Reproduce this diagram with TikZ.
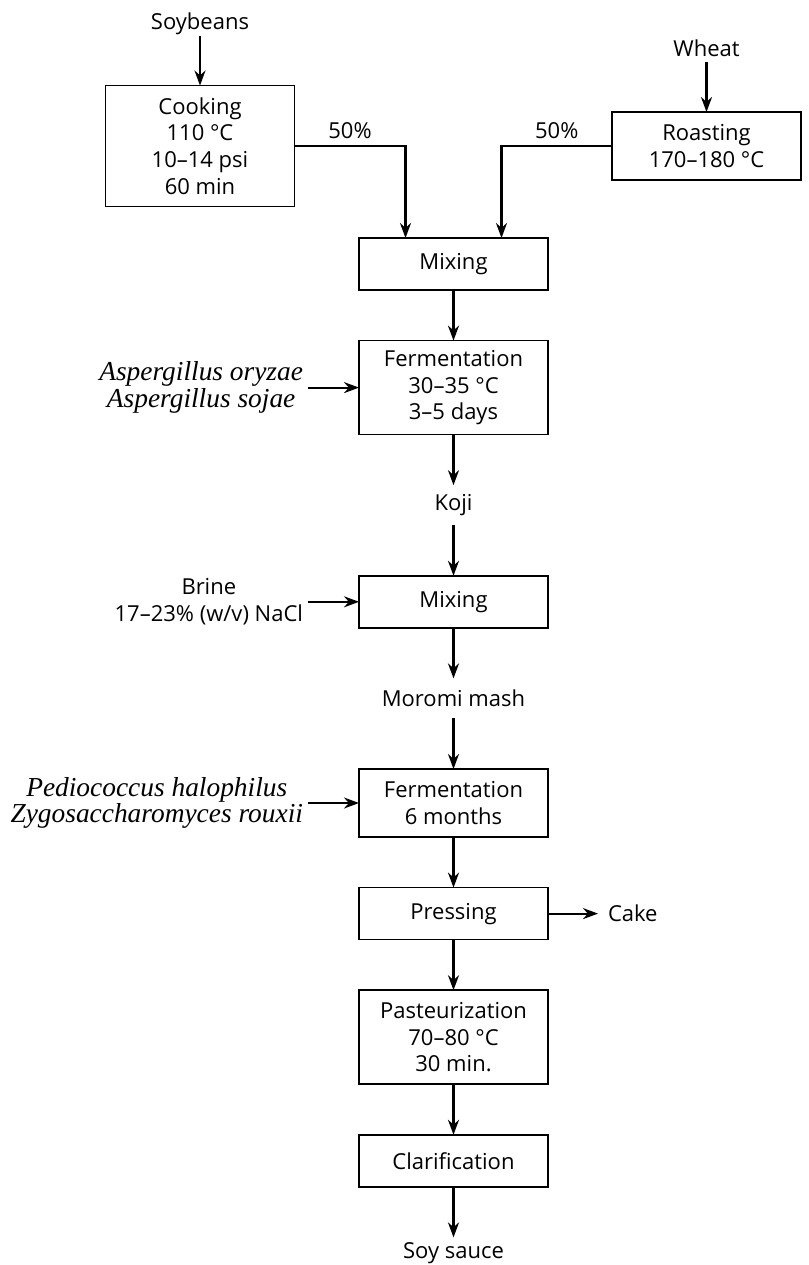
\documentclass[tikz,border=0pt]{standalone}
\usepackage{fontspec}
\setmainfont{Open Sans}
\newfontfamily\spfont{Liberation Serif}
\usetikzlibrary{positioning, arrows.meta}

\begin{document}
\begin{tikzpicture}[x=0.5pt,y=0.5pt,font=\fontsize{11pt}{13.3pt}\selectfont,
  >={Stealth[length=7.5pt,width=5.5pt]},node distance=25.3pt,
  box/.style={draw,line width=0.75pt,align=center,inner sep=0pt,outer sep=0pt,minimum width=94.5pt,minimum height=26pt},
  lbl/.style={align=center,inner sep=0pt,outer sep=0pt,minimum height=20pt},
  src/.style={align=center,inner xsep=2.5pt,inner ysep=0pt,outer sep=0pt,font=\fontsize{13.7pt}{13.3pt}\spfont\itshape},
  flow/.style={->,line width=1.1pt}]
  \useasboundingbox (0,0) rectangle (809,-1265);
  \node[box,minimum height=60.5pt](cook) at (200,-146){Cooking\\ 110 °C\\ 10–14 psi\\ 60 min};
  \node[box,minimum height=34pt](roast) at (706.5,-146){Roasting\\ 170–180 °C};
  \node[lbl,minimum height=0pt,text depth=3pt,above=25pt of cook](soy){Soybeans};
  \node[lbl,minimum height=0pt,text depth=3pt,above=25pt of roast](wheat){Wheat};
  \node[box](mix1) at (453.5,-264){Mixing};
  \coordinate (inL) at ([xshift=-24pt]mix1.north);
  \coordinate (inR) at ([xshift=24pt]mix1.north);
  \node[box,minimum height=47pt,below=of mix1](fer1){Fermentation\\ 30–35 °C\\ 3–5 days};
  \node[lbl,below=of fer1](koji){Koji};
  \node[box,below=of koji](mix2){Mixing};
  \node[lbl,below=of mix2](moromi){Moromi mash};
  \node[box,minimum height=34pt,below=of moromi](fer2){Fermentation\\ 6 months};
  \node[box,below=of fer2](press){Pressing};
  \node[box,minimum height=47pt,below=of press](past){Pasteurization\\ 70–80 °C\\ 30 min.};
  \node[box,below=of past](clar){Clarification};
  \node[lbl,minimum height=16pt,below=of clar](sauce){Soy sauce};
  \node[src,left=25.5pt of fer1](asp){Aspergillus oryzae\\ Aspergillus sojae};
  \node[lbl,minimum height=0pt,inner xsep=2.5pt,left=25.5pt of mix2](brine){Brine\\ 17–23\% (w/v) NaCl};
  \node[src,left=25.5pt of fer2](ped){Pediococcus halophilus\\ Zygosaccharomyces rouxii};
  \node[lbl,minimum height=0pt,inner xsep=5pt,right=25pt of press](cake){Cake};
  \draw[flow](soy)--(cook);\draw[flow](wheat)--(roast);
  \draw[flow](cook.east) -| node[pos=0.25,above](pctL){50\%} (inL);
  \draw[flow](roast.west) -| node[pos=0.25,above](pctR){50\%} (inR);
  \draw[flow](mix1)--(fer1);\draw[flow](fer1)--(koji);\draw[flow](koji)--(mix2);\draw[flow](mix2)--(moromi);
  \draw[flow](moromi)--(fer2);\draw[flow](fer2)--(press);\draw[flow](press)--(past);\draw[flow](past)--(clar);
  \draw[flow](clar)--(sauce);
  \draw[flow](asp)--(fer1);\draw[flow](brine)--(mix2);\draw[flow](ped)--(fer2);\draw[flow](press)--(cake);
\end{tikzpicture}
\end{document}
